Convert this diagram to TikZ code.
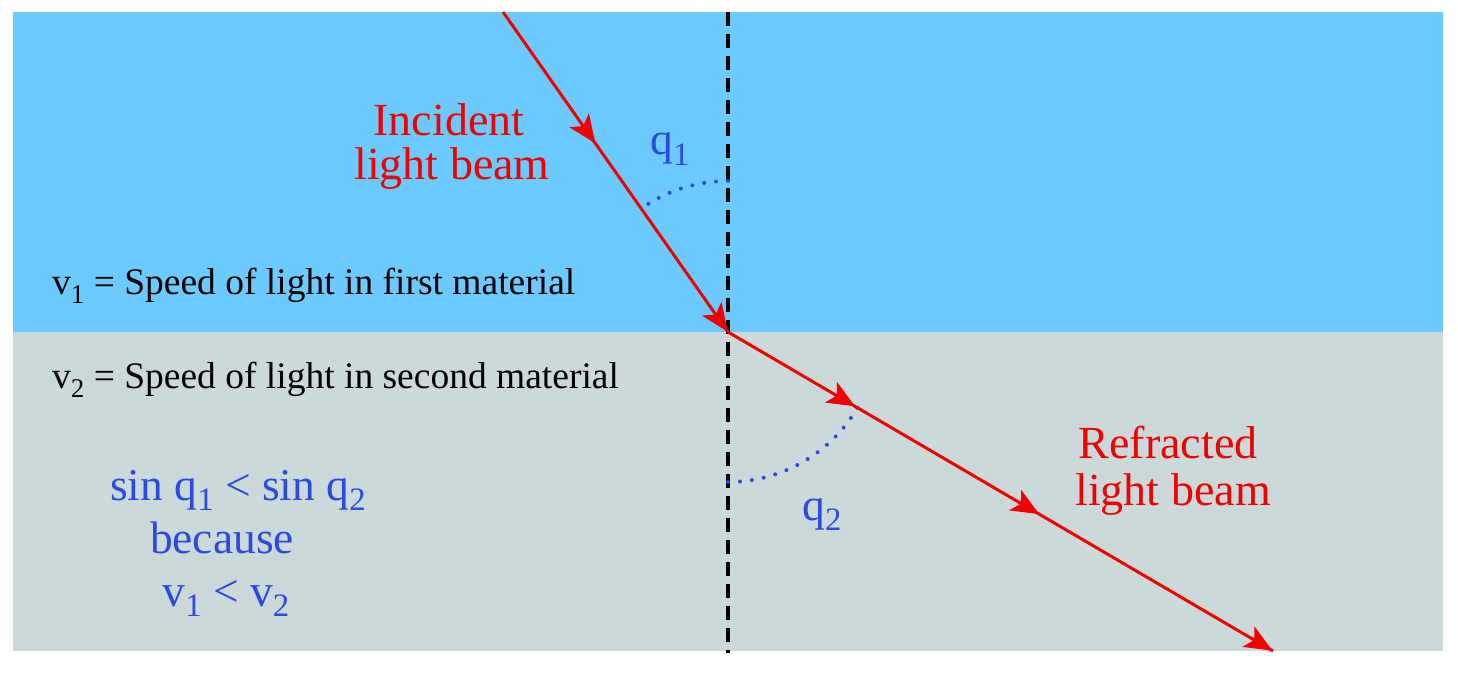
\documentclass[tikz,border=0pt]{standalone}
\usepackage{fontspec}
\setmainfont{Liberation Serif}
\newfontfamily\tnr{Liberation Serif}
\usepackage{graphicx}
\usetikzlibrary{decorations.markings}
\definecolor{skyb}{HTML}{6CCAFF}
\definecolor{grayb}{HTML}{CCD9DA}
\definecolor{rayred}{HTML}{F00000}
\definecolor{txtblue}{HTML}{2B4BE0}
\newcommand\sbs[1]{\raisebox{-0.22em}{\scalebox{0.72}{#1}}}
\newcommand\raytip{\fill[rayred] (0pt,0pt) -- (-28pt,12pt) -- (-21pt,0pt) -- (-28pt,-12pt) -- cycle;}
\begin{document}
\begin{tikzpicture}[x=1pt,y=1pt,
 redlbl/.style={text=rayred,font=\tnr\fontsize{46}{50}\selectfont,anchor=base,inner sep=0pt},
 bluelbl/.style={text=txtblue,font=\tnr\fontsize{45.5}{48}\selectfont,anchor=base,inner sep=0pt},
 blacklbl/.style={text=black,font=\tnr\fontsize{37.5}{40}\selectfont,anchor=base west,inner sep=0pt},
 normalline/.style={black,line width=3.5pt,dash pattern=on 14pt off 8pt},
 ray/.style={rayred,line width=3pt},
 anglearc/.style={txtblue,line width=4pt,line cap=round,dash pattern=on 0pt off 12pt}
]
\useasboundingbox (0,0) rectangle (1458,675);
\fill[white] (0,0) rectangle (1458,675);
\fill[skyb] (13,343) rectangle (1443,663);
\fill[grayb] (13,24) rectangle (1443,343);

\coordinate (S) at (503,663);
\coordinate (O) at (728,343);
\coordinate (E) at (1273,24);
\coordinate (Ntop) at (728,663);
\coordinate (Nbot) at (728,22);

\draw[normalline] (Ntop) -- (Nbot);

\draw[anglearc] ([shift={(90:151)}]O) arc[start angle=90,end angle=125.1,radius=151];
\draw[anglearc] ([shift={(270:150)}]O) arc[start angle=270,end angle=329.7,radius=150];

\draw[ray,decoration={markings,
   mark=at position 0.41 with {\raytip},
   mark=at position 0.999 with {\raytip}},postaction=decorate] (S) -- (O);
\draw[ray,decoration={markings,
   mark=at position 0.233 with {\raytip},
   mark=at position 0.571 with {\raytip},
   mark=at position 0.999 with {\raytip}},postaction=decorate] (O) -- (E);

\node[redlbl] (inc1) at (449,539) {Incident};
\node[redlbl] (inc2) at (452,495) {light beam};
\node[redlbl] (ref1) at (1168,217) {Refracted};
\node[redlbl] (ref2) at (1173,170) {light beam};

\node[bluelbl] (q1) at (670,520) {q\sbs{1}};
\node[bluelbl] (q2) at (822,155) {q\sbs{2}};

\node[blacklbl] (v1) at (52,380) {v\sbs{1} = Speed of light in first material};
\node[blacklbl] (v2) at (52,286) {v\sbs{2} = Speed of light in second material};

\node[bluelbl] (sin) at (238,175) {sin q\sbs{1} {<} sin q\sbs{2}};
\node[bluelbl] (bec) at (222,122) {because};
\node[bluelbl] (vv) at (226,69) {v\sbs{1} {<} v\sbs{2}};
\end{tikzpicture}
\end{document}
